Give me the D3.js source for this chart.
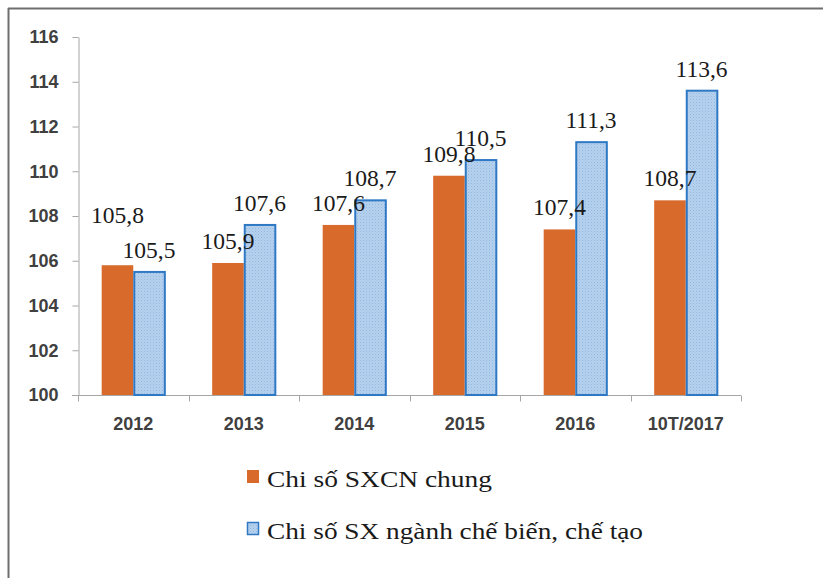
<!DOCTYPE html>
<html>
<head>
<meta charset="utf-8">
<script src="https://cdn.jsdelivr.net/npm/d3@7"></script>
<style>
  body { margin: 0; background: #fff; }
  .axis text { font-family: "Liberation Sans", Arial, sans-serif; font-weight: bold; font-size: 18px; fill: #404040; }
  .axis path, .axis line { stroke: #a6a6a6; }
  .val { font-family: "Times New Roman", Times, "Liberation Serif", "DejaVu Serif", serif; font-size: 23.5px; fill: #1a1a1a; }
  .leg { font-family: "Times New Roman", Times, "Liberation Serif", "DejaVu Serif", serif; font-size: 24px; fill: #1a1a1a; }
</style>
</head>
<body>
<div id="chart"></div>
<script>
var categories = ["2012", "2013", "2014", "2015", "2016", "10T/2017"];
var seriesNames = ["Chi số SXCN chung", "Chi số SX ngành chế biến, chế tạo"];
var general = [105.8, 105.9, 107.6, 109.8, 107.4, 108.7];
var manufacturing = [105.5, 107.6, 108.7, 110.5, 111.3, 113.6];
var yTicks = [100, 102, 104, 106, 108, 110, 112, 114, 116];

var w = 823;
var h = 578;

var svg = d3.select("#chart")
  .append("svg")
  .attr("width", w)
  .attr("height", h);

var defs = svg.append("defs");
var pat = defs.append("pattern")
  .attr("id", "hatch")
  .attr("patternUnits", "userSpaceOnUse")
  .attr("width", 3)
  .attr("height", 3);
pat.append("rect").attr("width", 3).attr("height", 3).attr("fill", "#b6d1ee");
pat.append("rect").attr("width", 1).attr("height", 1).attr("fill", "#93b8e0");
pat.append("rect").attr("x", 1.5).attr("y", 1.5).attr("width", 1).attr("height", 1).attr("fill", "#a3c3e7");

// frame
svg.append("line").attr("x1", 8).attr("x2", w).attr("y1", 8.5).attr("y2", 8.5)
  .attr("stroke", "#6e6e6e").attr("stroke-width", 2);
svg.append("line").attr("x1", 8.5).attr("x2", 8.5).attr("y1", 8).attr("y2", h)
  .attr("stroke", "#6e6e6e").attr("stroke-width", 2);

var x0 = d3.scaleBand()
  .domain(categories)
  .range([78, 741])
  .padding(0);

var x1 = d3.scaleBand()
  .domain([0, 1])
  .range([0, x0.bandwidth()])
  .paddingInner(0)
  .paddingOuter(0.75);

var y = d3.scaleLinear()
  .domain([100, 116])
  .range([395, 37]);

var yAxis = d3.axisLeft(y).tickValues(yTicks).tickSize(6).tickSizeOuter(0).tickPadding(14);
svg.append("g")
  .attr("class", "y axis")
  .attr("transform", "translate(78.5,0)")
  .call(yAxis);

var xAxis = d3.axisBottom(x0).tickSize(0).tickPadding(22).tickSizeOuter(0);
var gx = svg.append("g")
  .attr("class", "x axis")
  .attr("transform", "translate(0,395.5)")
  .call(xAxis);
gx.select(".domain").remove();
gx.append("line").attr("x1", 72).attr("x2", 741).attr("y1", 0).attr("y2", 0);
gx.selectAll(".bound")
  .data(categories.concat(["end"]))
  .enter()
  .append("line")
  .attr("class", "bound")
  .attr("x1", function(d, i) { return Math.round(78 + i * x0.step()) + 0.5; })
  .attr("x2", function(d, i) { return Math.round(78 + i * x0.step()) + 0.5; })
  .attr("y1", 0)
  .attr("y2", 6);

var colors = ["#d86a2b", "url(#hatch)"];
var series = [general, manufacturing];

series.forEach(function(vals, s) {
  svg.selectAll(".bar" + s)
    .data(vals)
    .enter()
    .append("rect")
    .attr("class", "bar" + s)
    .attr("x", function(d, i) { return x0(categories[i]) + x1(s) + (s ? 1 : 0); })
    .attr("width", x1.bandwidth() - (s ? 1 : 0))
    .attr("y", function(d) { return y(d); })
    .attr("height", function(d) { return y(100) - y(d); })
    .attr("fill", colors[s])
    .attr("stroke", s ? "#2e78c4" : "none")
    .attr("stroke-width", 2);
});

// value labels on top of all bars
series.forEach(function(vals, s) {
  svg.selectAll(".val" + s)
    .data(vals)
    .enter()
    .append("text")
    .attr("class", "val")
    .attr("text-anchor", "middle")
    .attr("x", function(d, i) { return x0(categories[i]) + x1(s) + x1.bandwidth() / 2; })
    .attr("y", function(d, i) {
      // first orange label sits higher in the original
      var lift = (s === 0 && i === 0) ? 42 : 14;
      return y(d) - lift;
    })
    .text(function(d) { return String(d).replace(".", ","); });
});

// legend
var legWidths = [225, 376];
var leg = svg.selectAll(".legitem")
  .data(seriesNames)
  .enter()
  .append("g")
  .attr("transform", function(d, i) { return "translate(247," + (470 + i * 52) + ")"; });
leg.append("rect")
  .attr("width", function(d, i) { return i ? 11 : 12; })
  .attr("height", function(d, i) { return i ? 12 : 13; })
  .attr("x", function(d, i) { return i ? 0.5 : 0; })
  .attr("y", function(d, i) { return i ? 0.5 : 0; })
  .attr("fill", function(d, i) { return colors[i]; })
  .attr("stroke", function(d, i) { return i ? "#2e78c4" : "none"; })
  .attr("stroke-width", 1.5);
leg.append("text")
  .attr("class", "leg")
  .attr("x", 20)
  .attr("y", 17)
  .attr("textLength", function(d, i) { return legWidths[i]; })
  .attr("lengthAdjust", "spacingAndGlyphs")
  .text(function(d) { return d; });
</script>
</body>
</html>
